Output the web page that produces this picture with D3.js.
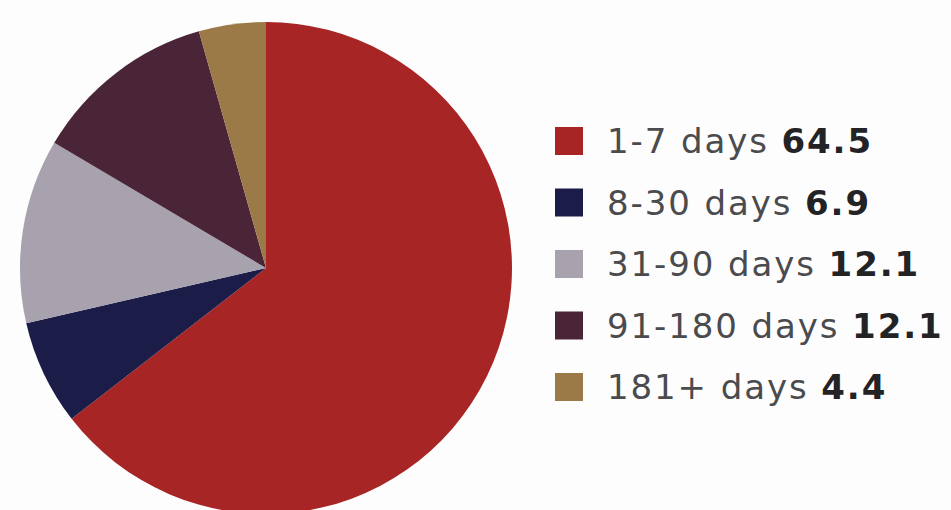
<!DOCTYPE html>
<html>
<head>
<meta charset="utf-8">
<script src="https://cdn.jsdelivr.net/npm/d3@7/dist/d3.min.js"></script>
<style>
  html, body { margin: 0; padding: 0; background: #fdfdfd; }
  svg { display: block; }
</style>
</head>
<body>
<svg id="chart" width="951" height="510"></svg>
<script>
// Share of cases by duration (percent)
const categories = ["1-7 days", "8-30 days", "31-90 days", "91-180 days", "181+ days"];
const values = [64.5, 6.9, 12.1, 12.1, 4.4];
const colors = ["#a82526", "#1b1c48", "#a7a2ad", "#4a2437", "#9b7a47"];

const data = categories.map((c, i) => ({ label: c, value: values[i], color: colors[i] }));

const svg = d3.select("#chart");
const cx = 266, cy = 268, radius = 246;

const pie = d3.pie().value(d => d.value).sort(null);
const arc = d3.arc().innerRadius(0).outerRadius(radius);

svg.append("g")
  .attr("transform", `translate(${cx},${cy})`)
  .selectAll("path")
  .data(pie(data))
  .join("path")
  .attr("d", arc)
  .attr("fill", d => d.data.color);

// Legend
const legendX = 555, legendY = 127, rowGap = 61.5, sw = 28;
const legend = svg.append("g").attr("transform", `translate(${legendX},${legendY})`);
const rows = legend.selectAll("g")
  .data(data)
  .join("g")
  .attr("transform", (d, i) => `translate(0,${i * rowGap})`);

rows.append("rect")
  .attr("width", sw).attr("height", sw)
  .attr("fill", d => d.color);

const txt = rows.append("text")
  .attr("x", 52)
  .attr("y", sw / 2)
  .attr("dy", "0.36em")
  .attr("font-family", "'DejaVu Sans', sans-serif")
  .attr("font-size", 34)
  .attr("letter-spacing", 1.9)
  .attr("fill", "#4b4b4d");

txt.append("tspan").text(d => d.label + " ");
txt.append("tspan")
  .attr("font-weight", "bold")
  .attr("fill", "#232325")
  .text(d => d3.format(".1f")(d.value));
</script>
</body>
</html>
